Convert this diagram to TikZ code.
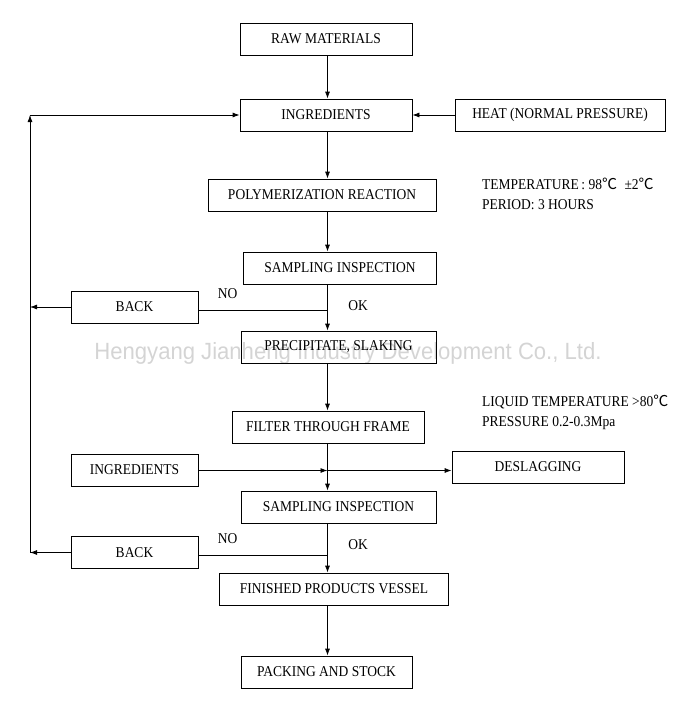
\documentclass[tikz,border=0pt]{standalone}
\usepackage{fontspec}
\setmainfont[FakeStretch=0.9]{Liberation Serif}
\newfontfamily\cjk{Noto Sans CJK SC}
\newfontfamily\wmfont[FakeStretch=0.94]{Liberation Sans}
\usetikzlibrary{arrows.meta}

\begin{document}
\begin{tikzpicture}[x=1pt,y=-1pt]
	\tikzset{block/.style={draw,rectangle,line width=0.8pt,minimum height=32pt,inner sep=0pt,font=\fontsize{15}{17}\selectfont},
		lbl/.style={inner sep=0pt,font=\fontsize{15}{17}\selectfont},
		>={Latex[length=7pt,width=5pt]}}
	\useasboundingbox (0,0) rectangle (695,709);
	\node[text=black!17,font=\wmfont\fontsize{23.5}{27}\selectfont] (mark) at (348,353) {Hengyang Jianheng Industry Development Co., Ltd.};
	\node[block,minimum width=172pt] (raw) at (326,39) {RAW MATERIALS};
	\node[block,minimum width=172pt] (ingr) at (326,115) {INGREDIENTS};
	\node[block,minimum width=210pt] (heat) at (560,115) {HEAT (NORMAL PRESSURE)};
	\node[block,minimum width=228pt] (poly) at (322,195) {POLYMERIZATION REACTION};
	\node[block,minimum width=193pt] (samp1) at (340,268) {SAMPLING INSPECTION};
	\node[block,minimum width=127pt] (back1) at (134.5,307) {BACK};
	\node[block,minimum width=195pt] (prec) at (338.5,347) {PRECIPITATE, SLAKING};
	\node[block,minimum width=192pt] (filt) at (328,427) {FILTER THROUGH FRAME};
	\node[block,minimum width=127pt] (ingr2) at (134.5,470) {INGREDIENTS};
	\node[block,minimum width=172pt] (desl) at (538,467) {DESLAGGING};
	\node[block,minimum width=195pt] (samp2) at (338.5,507) {SAMPLING INSPECTION};
	\node[block,minimum width=127pt] (back2) at (134.5,552.5) {BACK};
	\node[block,minimum width=229pt] (fin) at (334,589) {FINISHED PRODUCTS VESSEL};
	\node[block,minimum width=171pt] (pack) at (326.5,672) {PACKING AND STOCK};
	\node[lbl] (no1) at (227.5,294) {NO};
	\node[lbl] (ok1) at (358,306) {OK};
	\node[lbl] (no2) at (227.5,539) {NO};
	\node[lbl] (ok2) at (358,545) {OK};
	\node[lbl,anchor=west] (temp) at (482,184) {TEMPERATURE\,: 98{\cjk ℃}\enspace ±2{\cjk ℃}};
	\node[lbl,anchor=west] (period) at (482,205) {PERIOD: 3 HOURS};
	\node[lbl,anchor=west] (liquid) at (482,402) {LIQUID TEMPERATURE >80{\cjk ℃}};
	\node[lbl,anchor=west] (press) at (482,423) {PRESSURE 0.2-0.3Mpa};
	\coordinate (axis) at (327.5,0);
	\coordinate (top) at (30,115);
	\coordinate (j1) at (327.5,310.5);
	\coordinate (j2) at (327.5,555);
	\coordinate (j3) at (327.5,470.5);
	\path[->,line width=0.8pt]
		(raw.south -| axis) edge (ingr.north -| axis)
		(heat) edge (ingr)
		(ingr.south -| axis) edge (poly.north -| axis)
		(poly.south -| axis) edge (samp1.north -| axis)
		(samp1.south -| axis) edge (prec.north -| axis)
		(prec.south -| axis) edge (filt.north -| axis)
		(filt.south -| axis) edge (samp2.north -| axis)
		(samp2.south -| axis) edge (fin.north -| axis)
		(fin.south -| axis) edge (pack.north -| axis)
		(j1) edge[-] (j1 -| back1.east)
		(back1) edge (back1.west -| top)
		(j2) edge[-] (j2 -| back2.east)
		(back2) edge (back2.west -| top)
		(back2.west -| top) edge (top)
		(top) edge (ingr)
		(ingr2.east |- j3) edge (j3)
		(j3) edge (j3 -| desl.west);
\end{tikzpicture}
\end{document}
